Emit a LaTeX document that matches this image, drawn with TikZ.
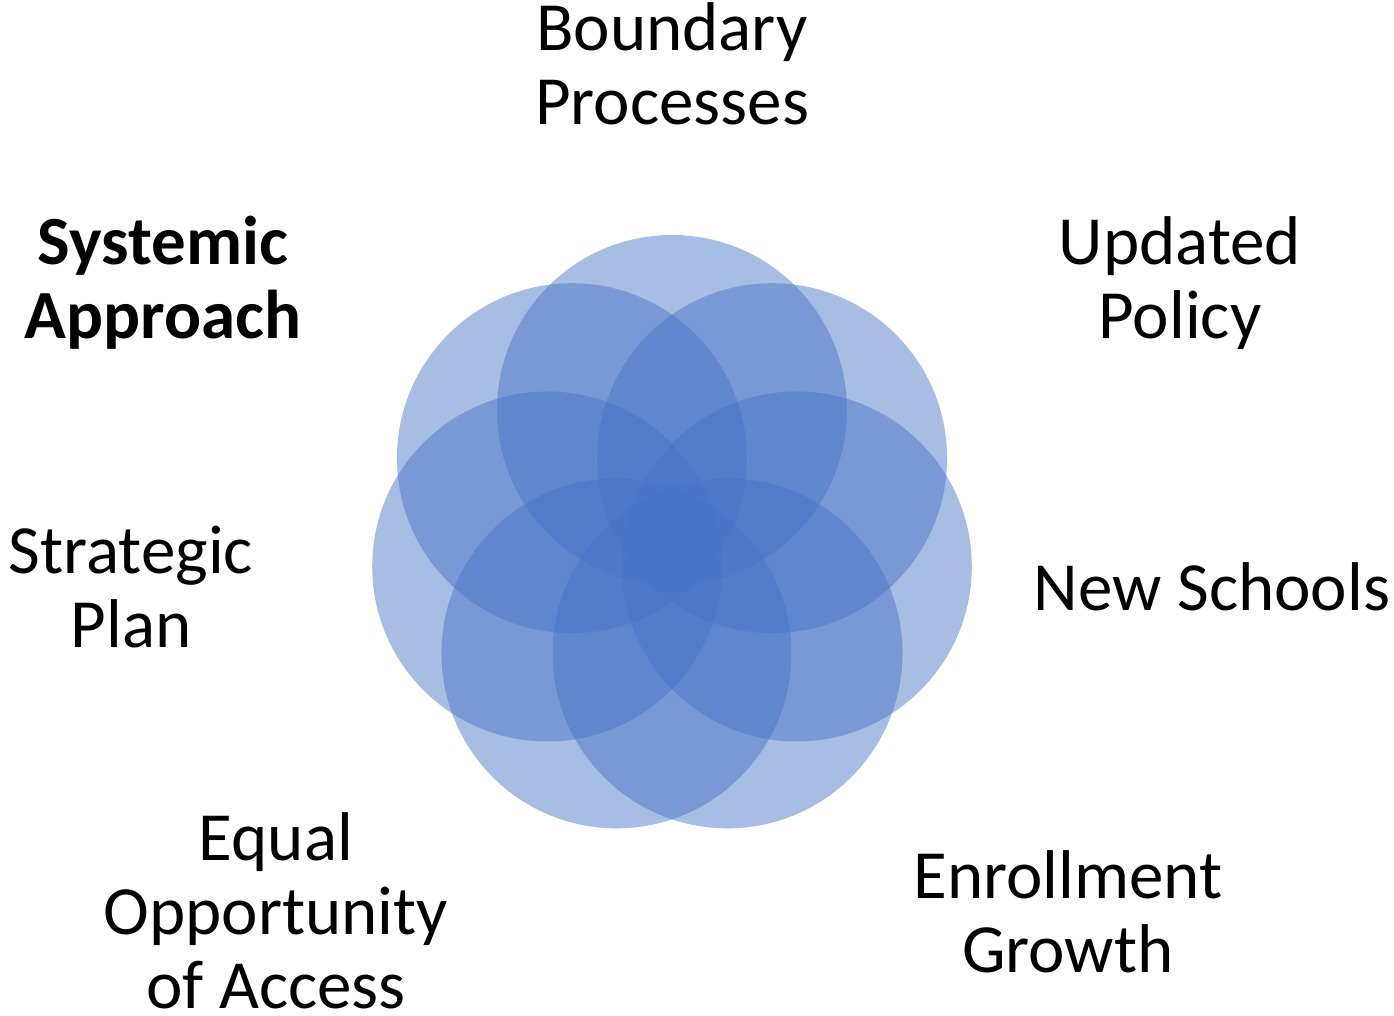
\documentclass[tikz,border=0pt]{standalone}
\usepackage{fontspec}
\setmainfont{Carlito}
\usetikzlibrary{calc}
\definecolor{petal}{HTML}{4472C4}
\begin{document}
\begin{tikzpicture}[x=1pt,y=-1pt,
  petalstyle/.style={fill=petal,fill opacity=0.47,draw=none},
  lbl/.style={align=center,inner sep=0pt,anchor=base,font=\fontsize{69}{74}\selectfont}]
\useasboundingbox (0,0) rectangle (1394,1015);
\coordinate (c) at (672,538);
\foreach \i in {0,...,6}{
  \fill[petalstyle] ($(c)+({270+\i*360/7}:128)$) circle[radius=175];
}
\node[lbl] (bp) at (672,124) {Boundary\\Processes};
\node[lbl,font=\fontsize{69}{74}\selectfont\bfseries] (sa) at (163,338) {Systemic\\Approach};
\node[lbl] (up) at (1180,338) {Updated\\Policy};
\node[lbl] (sp) at (131,647) {Strategic\\Plan};
\node[lbl] (ns) at (1212,610) {New Schools};
\node[lbl] (eq) at (276,1008) {Equal\\Opportunity\\of Access};
\node[lbl] (eg) at (1068,972) {Enrollment\\Growth};
\end{tikzpicture}
\end{document}
